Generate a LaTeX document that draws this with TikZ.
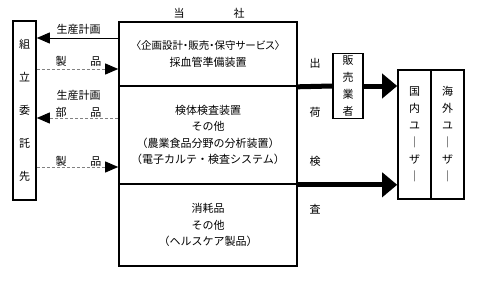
\documentclass[tikz,border=0pt]{standalone}
\usepackage{fontspec}
\setmainfont{Noto Sans CJK JP}
\usetikzlibrary{arrows.meta}

\begin{document}
\begin{tikzpicture}[x=1pt, y=-1pt, font=\fontsize{11pt}{16.5pt}\selectfont,
    box/.style={draw, line width=1.6pt, inner sep=0pt, align=center},
    tate/.style={box, font=\fontsize{11pt}{17pt}\selectfont},
    thinflow/.style={line width=0.9pt, -{Triangle[length=13pt, width=11pt, color=black]}},
    dashflow/.style={thinflow, gray, densely dashed},
    bigflow/.style={line width=5pt},
    bigtip/.style={-{Triangle[length=15pt, width=24pt]}}]
      \useasboundingbox (0,0) rectangle (479,281);

      % Company sections
      \node[box, minimum width=178pt, minimum height=64pt] (plan) at (208,54)
        {{\fontsize{10.5pt}{16.5pt}\selectfont\addfontfeature{RawFeature=+palt}〈企画設計・販売・保守サービス〉}\\採血管準備装置};
      \node[box, minimum width=178pt, minimum height=98pt] (test) at (208,135)
        {検体検査装置\\その他\\（農業食品分野の分析装置）\\（電子カルテ・検査システム）};
      \node[box, minimum width=178pt, minimum height=82pt] (goods) at (208,225)
        {消耗品\\その他\\（ヘルスケア製品）};
      \node (head1) at (179,13) {当};
      \node (head2) at (239,13) {社};

      % Contractor
      \node[box, minimum width=23pt, minimum height=179pt,
        font=\fontsize{11pt}{33pt}\selectfont] (maker) at (24.5,110.5)
        {組\\立\\委\\託\\先};

      % Dealer and users
      \node[tate, minimum width=30pt, minimum height=65pt] (dealer) at (348,86)
        {販\\売\\業\\者};
      \node[tate, minimum width=33pt, minimum height=129pt] (domestic) at (414.5,134.5)
        {国\\内\\ユ\\｜\\ザ\\｜};
      \node[tate, minimum width=33pt, minimum height=129pt] (overseas) at (447.5,134.5)
        {海\\外\\ユ\\｜\\ザ\\｜};

      % Flows to and from contractor
      \draw[thinflow] (plan.west |- 0,38) -- (maker.east |- 0,38);
      \draw[dashflow] (maker.east |- 0,69) -- (plan.west |- 0,69);
      \draw[dashflow] (test.west |- 0,118) -- (maker.east |- 0,118);
      \draw[dashflow] (maker.east |- 0,167) -- (test.west |- 0,167);
      \node (sched1) at (78.5,29) {生産計画};
      \node (prod1) at (78.5,61) {製\hspace{24pt}品};
      \node (sched2) at (78.5,95) {生産計画};
      \node (part2) at (78.5,112) {部\hspace{24pt}品};
      \node (prod2) at (78.5,161) {製\hspace{24pt}品};

      % Shipping
      \draw[bigflow] (plan.south east) -- (dealer.west);
      \draw[bigflow, bigtip] (dealer.east) -- (domestic.west |- dealer.east);
      \draw[bigflow, bigtip] (test.south east) -- (domestic.west |- test.south east);
      \node (ship1) at (315,63) {出};
      \node (ship2) at (315,112) {荷};
      \node (ship3) at (315,161) {検};
      \node (ship4) at (315,209) {査};
    \end{tikzpicture}
\end{document}
